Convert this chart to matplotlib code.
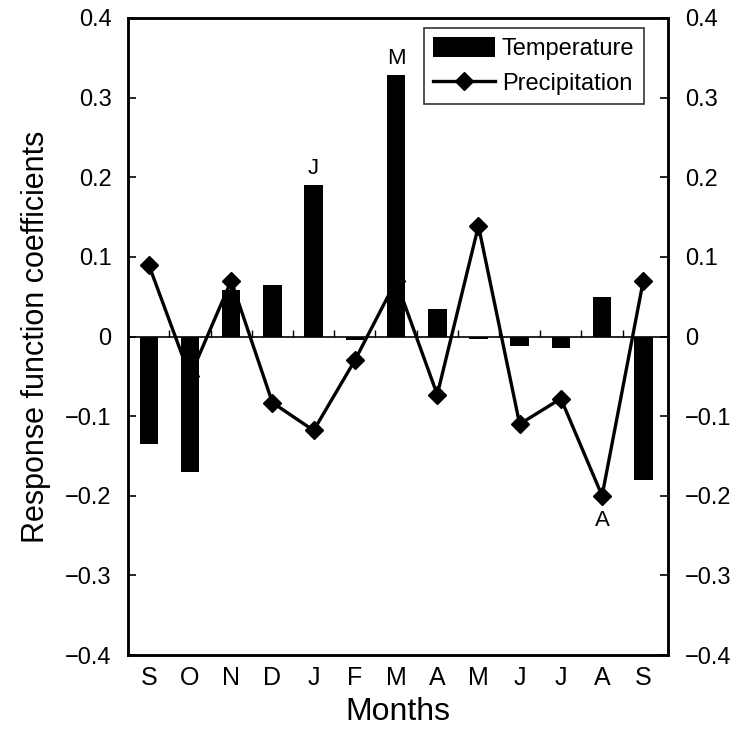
import numpy as np
import matplotlib.pyplot as plt

months = ['S', 'O', 'N', 'D', 'J', 'F', 'M', 'A', 'M', 'J', 'J', 'A', 'S']
temperature = [-0.135, -0.17, 0.058, 0.065, 0.19, -0.005, 0.328, 0.035, -0.003, -0.012, -0.015, 0.05, -0.18]
precipitation = [0.09, -0.05, 0.07, -0.083, -0.118, -0.03, 0.07, -0.073, 0.139, -0.11, -0.078, -0.2, 0.07]
yticks = [0.4, 0.3, 0.2, 0.1, 0, -0.1, -0.2, -0.3, -0.4]

plt.rcParams['font.family'] = ['Liberation Sans', 'DejaVu Sans']

fig = plt.figure(figsize=(7.41, 7.43), dpi=100)
ax = fig.add_axes([0.173, 0.1184, 0.7285, 0.8574])

x = np.arange(len(months))
bars = ax.bar(x, temperature, width=0.45, color='black', label='Temperature', zorder=2)
line, = ax.plot(x, precipitation, color='black', lw=2.4, marker='D', ms=9,
                label='Precipitation', zorder=3)

# zero line with small upward ticks between months
ax.axhline(0, color='black', lw=1.2, zorder=1)
bounds = x[:-1] + 0.5
ax.vlines(bounds, 0, 0.008, color='black', lw=1, zorder=1)

ax.set_xlim(-0.5, 12.6)
ax.set_ylim(-0.4, 0.4)
ax.set_xticks(x)
ax.set_xticklabels(months, fontsize=18)
ax.tick_params(axis='x', length=0, pad=8)

def fmt(v):
    if v == 0:
        return '0'
    return ('%.1f' % v).replace('-', '\u2212')

ax.set_yticks(yticks)
ax.set_yticklabels([fmt(v) for v in yticks], fontsize=17)
ax.tick_params(axis='y', direction='in', length=6, width=1.2, pad=12)

ax2 = ax.twinx()
ax2.set_ylim(ax.get_ylim())
ax2.set_yticks(yticks)
ax2.set_yticklabels([fmt(v) for v in yticks], fontsize=17)
ax2.tick_params(axis='y', direction='in', length=6, width=1.2, pad=12)

for a in (ax, ax2):
    for s in a.spines.values():
        s.set_linewidth(1.8)

ax.set_ylabel('Response function coefficients', fontsize=22, labelpad=10)
ax.set_xlabel('Months', fontsize=23, labelpad=5)

# letter labels on notable months
ax.text(x[4], temperature[4] + 0.008, 'J', ha='center', va='bottom', fontsize=16)
ax.text(x[6], temperature[6] + 0.008, 'M', ha='center', va='bottom', fontsize=16)
ax.text(x[11], precipitation[11] - 0.018, 'A', ha='center', va='top', fontsize=16)

leg = ax.legend([bars, line], ['Temperature', 'Precipitation'], loc='upper right',
                bbox_to_anchor=(0.955, 0.985), fontsize=17,
                frameon=True, fancybox=False, edgecolor='black', handlelength=2.6,
                handleheight=0.9, borderpad=0.4, labelspacing=0.5,
                handletextpad=0.3, borderaxespad=0)
leg.get_frame().set_linewidth(1.2)

fig.savefig('out.png', dpi=100)
